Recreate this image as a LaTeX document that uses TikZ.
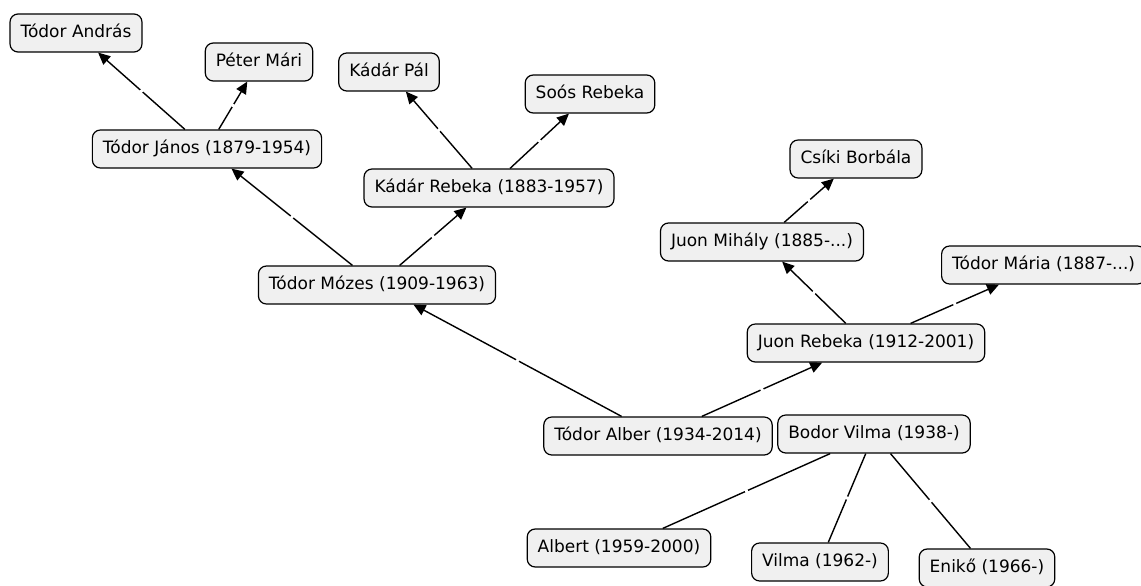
\documentclass[tikz,border=0pt]{standalone}
\usepackage{fontspec}
\setmainfont{DejaVu Sans}
\usetikzlibrary{arrows.meta}
\definecolor{boxgray}{RGB}{240,240,240}

\begin{document}
\begin{tikzpicture}[
    x=1pt, y=-1pt,
    >={Triangle[length=12pt,width=11pt]},
    font=\fontsize{17}{20}\selectfont,
    person/.style={draw=black, line width=1.2pt, rounded corners=8pt, fill=boxgray,
        minimum height=38pt, inner xsep=10.5pt, text height=12.5pt, text depth=3.5pt},
    link/.style={->, line width=1.4pt},
    kin/.style={line width=1.4pt},
    linkgap/.style={midway, sloped, fill=white, inner sep=0pt, minimum width=3pt, minimum height=5pt}
]

\useasboundingbox (0,0) rectangle (1141,586);

% ===== Ancestors of Tódor Mózes =====
\node[person] (andras) at (76,33) {Tódor András};
\node[person] (peter) at (259,62) {Péter Mári};
\node[person] (pal) at (389,72) {Kádár Pál};
\node[person] (soos) at (590,94) {Soós Rebeka};
\node[person] (janos) at (207,149) {Tódor János (1879-1954)};
\node[person] (kadar) at (489,188) {Kádár Rebeka (1883-1957)};
\node[person] (mozes) at (377,285) {Tódor Mózes (1909-1963)};

% ===== Ancestors of Juon Rebeka =====
\node[person] (csiki) at (856,159) {Csíki Borbála};
\node[person] (mihaly) at (762,242) {Juon Mihály (1885-...)};
\node[person, anchor=west] (maria) at (941,265) {Tódor Mária (1887-...)};
\node[person] (rebeka) at (866,343) {Juon Rebeka (1912-2001)};

% ===== Couple and children =====
\node[person] (alber) at (658,436) {Tódor Alber (1934-2014)};
\node[person] (vilma) at (874,434) {Bodor Vilma (1938-)};
\node[person] (albert) at (619,548) {Albert (1959-2000)};
\node[person] (vilmajr) at (820,562) {Vilma (1962-)};
\node[person] (eniko) at (987,568) {Enikő (1966-)};

% Parent links
\draw[link] (janos) -- (andras) node[linkgap] {};
\draw[link] (janos) -- (peter) node[linkgap] {};
\draw[link] (kadar) -- (pal) node[linkgap] {};
\draw[link] (kadar) -- (soos) node[linkgap] {};
\draw[link] (mozes) -- (janos) node[linkgap] {};
\draw[link] (mozes) -- (kadar) node[linkgap] {};
\draw[link] (mihaly) -- (csiki) node[linkgap] {};
\draw[link] (rebeka) -- (mihaly) node[linkgap] {};
\draw[link] (rebeka) -- (maria) node[linkgap] {};
\draw[link] (alber) -- (mozes) node[linkgap] {};
\draw[link] (alber) -- (rebeka) node[linkgap] {};

% Children
\draw[kin] (vilma) -- (albert) node[linkgap] {};
\draw[kin] (vilma) -- (vilmajr) node[linkgap] {};
\draw[kin] (vilma) -- (eniko) node[linkgap] {};

\end{tikzpicture}
\end{document}
